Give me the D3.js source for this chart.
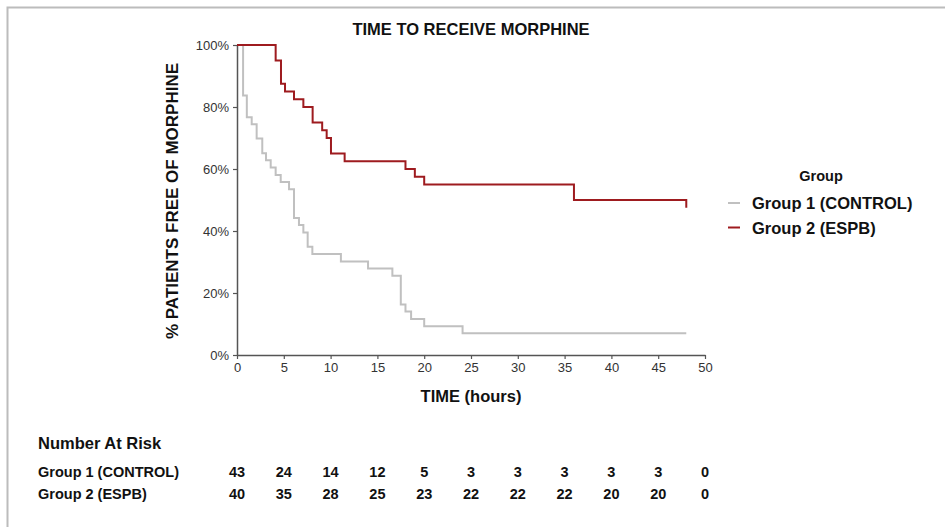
<!DOCTYPE html>
<html>
<head>
<meta charset="utf-8">
<script src="https://cdn.jsdelivr.net/npm/d3@7"></script>
<style>
  body { margin: 0; background: #fff; }
  text { font-family: Arial, "Liberation Sans", sans-serif; }
</style>
</head>
<body>
<script>
// Donnees (Kaplan-Meier, % sans morphine)
const g1Times = [0, 0.65, 1.05, 1.57, 2.1, 2.7, 3.1, 3.6, 4.13, 4.67, 5.56, 6.09, 6.62, 7.09, 7.55, 8.05, 11.1, 14.0, 16.6, 17.5, 18.0, 18.6, 20.0, 24.1, 48];
const g1Surv  = [100, 83.7, 76.7, 74.4, 69.8, 65.1, 62.8, 60.5, 58.1, 55.8, 53.5, 44.2, 41.9, 39.5, 34.9, 32.6, 30.2, 27.9, 25.6, 16.3, 14.0, 11.6, 9.3, 7.0, 7.0];

const g2Times = [0, 4.13, 4.7, 5.13, 6.09, 7.09, 8.08, 9.1, 9.58, 10.04, 11.5, 18.0, 19.0, 20.0, 36.0, 48];
const g2Surv  = [100, 95, 87.5, 85, 82.5, 80, 75, 72.5, 70, 65, 62.5, 60, 57.5, 55, 50, 47.5];

const groupNames = ['Group 1 (CONTROL)', 'Group 2 (ESPB)'];
const groupColors = ['#c0c0c0', '#9e1b1f'];

// Nombre a risque
const riskTimes = [0, 5, 10, 15, 20, 25, 30, 35, 40, 45, 50];
const risk1 = [43, 24, 14, 12, 5, 3, 3, 3, 3, 3, 0];
const risk2 = [40, 35, 28, 25, 23, 22, 22, 22, 20, 20, 0];

const xTicks = [0, 5, 10, 15, 20, 25, 30, 35, 40, 45, 50];
const yTicks = [0, 20, 40, 60, 80, 100];

const svg = d3.select('body').append('svg').attr('width', 945).attr('height', 527);

// Cadre gris (haut et gauche)
svg.append('path')
    .attr('d', 'M7.5,527 V7.5 H945')
    .attr('fill', 'none')
    .attr('stroke', '#bcbcbc')
    .attr('stroke-width', 2);

const x = d3.scaleLinear().domain([0, 50]).range([237, 705]);
const y = d3.scaleLinear().domain([0, 100]).range([355, 45]);

// Titre
svg.append('text')
    .attr('x', 471).attr('y', 35)
    .attr('text-anchor', 'middle')
    .attr('font-size', 16.5).attr('font-weight', 'bold')
    .attr('fill', '#111')
    .text('TIME TO RECEIVE MORPHINE');

// Axes
const xAxis = svg.append('g')
    .attr('transform', 'translate(0,355)')
    .call(d3.axisBottom(x).tickValues(xTicks).tickSize(4).tickPadding(4).tickSizeOuter(0));
const yAxis = svg.append('g')
    .attr('transform', 'translate(237,0)')
    .call(d3.axisLeft(y).tickValues(yTicks).tickSize(4).tickPadding(4).tickSizeOuter(0)
        .tickFormat(d => d + '%'));

[xAxis, yAxis].forEach(a => {
    a.select('.domain').attr('stroke', '#555').attr('stroke-width', 1.5);
    a.selectAll('.tick line').attr('stroke', '#555').attr('stroke-width', 1.2);
    a.selectAll('.tick text')
        .attr('font-size', 13)
        .attr('font-family', 'Arial, "Liberation Sans", sans-serif')
        .attr('fill', '#333');
});

// Titres des axes
svg.append('text')
    .attr('x', 471).attr('y', 402)
    .attr('text-anchor', 'middle')
    .attr('font-size', 16.5).attr('font-weight', 'bold')
    .attr('fill', '#111')
    .text('TIME (hours)');

svg.append('text')
    .attr('transform', 'translate(178,201) rotate(-90)')
    .attr('text-anchor', 'middle')
    .attr('font-size', 17).attr('font-weight', 'bold')
    .attr('fill', '#111')
    .text('% PATIENTS FREE OF MORPHINE');

// Courbes en escalier
const line = d3.line()
    .x(d => x(d[0]))
    .y(d => y(d[1]))
    .curve(d3.curveStepAfter);

const curves = [
    d3.zip(g1Times, g1Surv),
    d3.zip(g2Times, g2Surv)
];

curves.forEach((pts, i) => {
    svg.append('path')
        .datum(pts)
        .attr('d', line)
        .attr('fill', 'none')
        .attr('stroke', groupColors[i])
        .attr('stroke-width', 2);
});

// Legende
svg.append('text')
    .attr('x', 821).attr('y', 181)
    .attr('text-anchor', 'middle')
    .attr('font-size', 14.5).attr('font-weight', 'bold')
    .attr('fill', '#111')
    .text('Group');

groupNames.forEach((name, i) => {
    const ly = 203 + i * 24.5;
    svg.append('line')
        .attr('x1', 728).attr('x2', 740)
        .attr('y1', ly).attr('y2', ly)
        .attr('stroke', groupColors[i])
        .attr('stroke-width', 2);
    svg.append('text')
        .attr('x', 752).attr('y', ly + 6)
        .attr('font-size', 16.5).attr('font-weight', 'bold')
        .attr('fill', '#111')
        .text(name);
});

// Tableau du nombre a risque
svg.append('text')
    .attr('x', 38).attr('y', 449)
    .attr('font-size', 16.5).attr('font-weight', 'bold')
    .attr('fill', '#111')
    .text('Number At Risk');

[risk1, risk2].forEach((row, i) => {
    const ry = 477 + i * 22;
    svg.append('text')
        .attr('x', 38).attr('y', ry)
        .attr('font-size', 14.5).attr('font-weight', 'bold')
        .attr('fill', '#111')
        .text(groupNames[i]);
    svg.append('g').selectAll('text')
        .data(row)
        .join('text')
        .attr('x', (d, j) => x(riskTimes[j]))
        .attr('y', ry)
        .attr('text-anchor', 'middle')
        .attr('font-size', 14.5).attr('font-weight', 'bold')
        .attr('fill', '#111')
        .text(d => d);
});
</script>
</body>
</html>
